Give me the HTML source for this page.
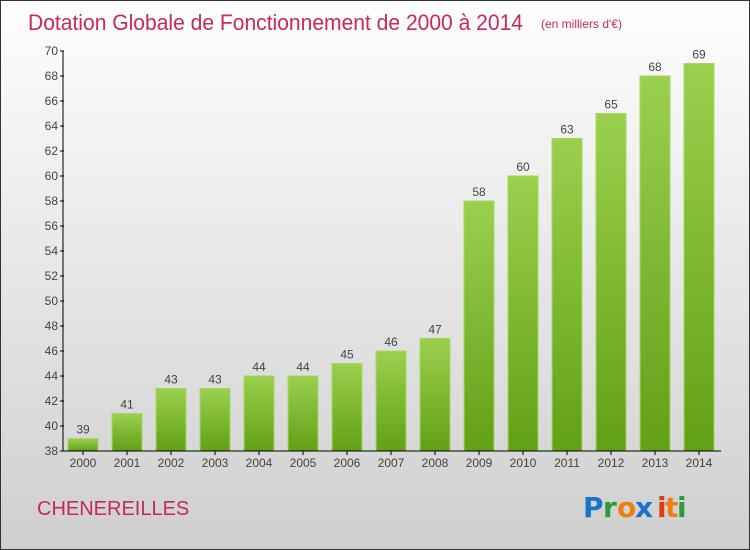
<!DOCTYPE html>
<html><head><meta charset="utf-8"><style>
body{margin:0;}
#c{width:750px;height:550px;box-sizing:border-box;border:1px solid #333;background:linear-gradient(#fefefe,#f0f0f0 30%,#cfcfcf);position:relative;overflow:hidden;font-family:"Liberation Sans",sans-serif;}
</style></head><body>
<div id="c">
<svg width="750" height="550" style="position:absolute;left:0;top:0">
<defs><linearGradient id="g" x1="0" y1="0" x2="0" y2="1"><stop offset="0" stop-color="#9bd04e"/><stop offset="1" stop-color="#62a017"/></linearGradient></defs>
<text x="27" y="29" font-size="22" fill="#c8285a" font-family="Liberation Sans, sans-serif" textLength="495" lengthAdjust="spacingAndGlyphs">Dotation Globale de Fonctionnement de 2000 à 2014</text>
<text x="540" y="27" font-size="12" fill="#c8285a">(en milliers d'€)</text>
<text x="36" y="514" font-size="20" fill="#c8285a">CHENEREILLES</text>
<g font-size="28" font-weight="bold" font-family="DejaVu Sans, sans-serif">
<text x="582" y="516" fill="#1a73c9">P</text><text x="602" y="516" fill="#2a9a3a">r</text><text x="616" y="516" fill="#f07d10">o</text><text x="634" y="516" fill="#1a73c9">x</text><text x="656" y="516" fill="#e03a1a">i</text><text x="664" y="516" fill="#f07d10">t</text><text x="676" y="516" fill="#2a9a3a">i</text>
</g>
<g id="plot"></g>
</svg>
</div>
<script>
const years=["2000","2001","2002","2003","2004","2005","2006","2007","2008","2009","2010","2011","2012","2013","2014"];
const values=[39,41,43,43,44,44,45,46,47,58,60,63,65,68,69];
const yTicks=[38,40,42,44,46,48,50,52,54,56,58,60,62,64,66,68,70];
const y=v=>450-(v-38)*12.5;
const x=i=>82+i*44;
const ns="http://www.w3.org/2000/svg";
const p=document.getElementById('plot');
function mk(t,a,txt){const e=document.createElementNS(ns,t);for(const k in a)e.setAttribute(k,a[k]);if(txt!==undefined)e.textContent=txt;p.appendChild(e);return e;}
values.forEach((v,i)=>{
 const b=mk('rect',{x:x(i)-15,y:y(v),width:30,height:450-y(v),fill:'url(#g)',stroke:'#a6d860','stroke-width':1});
 
 
 const l=mk('text',{x:x(i),y:y(v)-5,'text-anchor':'middle','font-size':12,fill:'#444'},String(v));
 
 
 const t=mk('text',{x:x(i),y:466,'text-anchor':'middle','font-size':12,fill:'#444'},years[i]);
 
 
 mk('line',{x1:x(i),x2:x(i),y1:450,y2:454,stroke:'#000'});
});
yTicks.forEach(v=>{
 mk('line',{x1:59,x2:63,y1:y(v),y2:y(v),stroke:'#000'});
 const t=mk('text',{x:57,y:y(v)+4,'text-anchor':'end','font-size':12,fill:'#444'},String(v));
 
 
});
const ya=mk('line',{x1:62,x2:62,y1:50,y2:450,stroke:'#000'});


const xa=mk('line',{x1:62,x2:720,y1:450,y2:450,stroke:'#000'});


</script>
</body></html>
